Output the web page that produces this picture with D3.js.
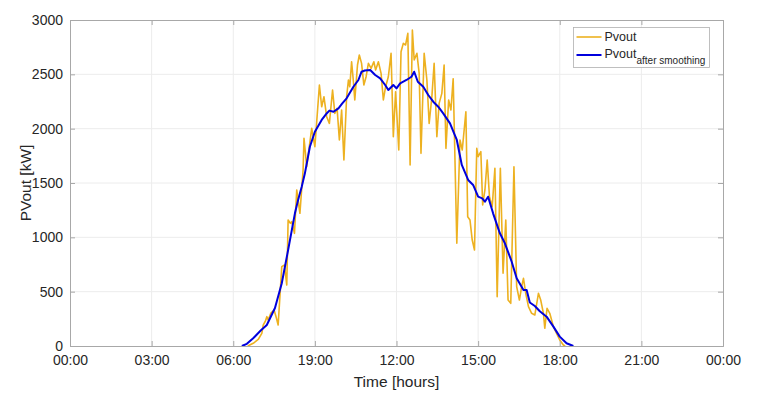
<!DOCTYPE html>
<html>
<head>
<meta charset="utf-8">
<script src="https://cdn.jsdelivr.net/npm/d3@7"></script>
<style>
  body { margin: 0; background: #fff; }
  text { font-family: "Liberation Sans", Arial, sans-serif; fill: #262626; }
</style>
</head>
<body>
<div id="chart"></div>
<script>
// raw PV output, time in minutes after midnight, value in kW
var pvMinutes = [392, 404, 415, 423, 426, 431, 434, 437, 443, 450, 455, 459, 467, 473, 478, 481, 486, 489, 495, 500,
  507, 514, 516, 522, 533, 540, 550, 555, 560, 566, 572, 579, 584, 589, 594, 599, 604, 610, 614, 617,
  621, 625, 628, 634, 638, 643, 648, 653, 658, 664, 670, 674, 680, 686, 691, 696, 702, 708, 713, 718,
  725, 730, 735, 740, 745, 750, 755, 759, 765, 770, 774, 781, 787, 792, 798, 803, 809, 814, 820, 825,
  829, 835, 840, 845, 853, 860, 865, 873, 877, 882, 887, 892, 897, 900, 906, 910, 915, 920, 925, 931,
  937, 942, 949, 955, 961, 966, 972, 979, 985, 991, 996, 1000, 1005, 1011, 1018, 1025, 1033, 1038, 1044, 1047,
  1052, 1058, 1066, 1073, 1080, 1088, 1092];
var pvValues = [0, 25, 60, 117, 193, 230, 270, 240, 304, 331, 260, 193, 730, 745, 561, 1160, 1130, 1144, 1037, 1436,
  1221, 1620, 1911, 1650, 2003, 1834, 2402, 2202, 2294, 2110, 2049, 2356, 2141, 2187, 1896, 2172, 1712, 2294, 2448, 2386,
  2616, 2432, 2264, 2586, 2678, 2601, 2402, 2478, 2601, 2555, 2616, 2540, 2616, 2509, 2264, 2386, 2478, 2693, 1926, 2340,
  1804, 2708, 2785, 2770, 2877, 1666, 2908, 2632, 2693, 2509, 1773, 2693, 2448, 2049, 2294, 2601, 1926, 2233, 2325, 2586,
  1819, 2264, 2172, 2460, 945, 1896, 1804, 2156, 1190, 1160, 975, 883, 1819, 1742, 1788, 1298, 1436, 1712, 1374, 1282,
  1635, 454, 1635, 669, 1160, 423, 393, 1650, 546, 423, 546, 623, 485, 362, 301, 285, 485, 423, 301, 163,
  347, 301, 178, 117, 55, 9, 0];

// smoothed PV output
var smoothMinutes = [379, 390, 404, 420, 434, 452, 467, 481, 496, 503, 511, 518, 529, 540, 555, 566, 572, 581, 592, 600,
  610, 625, 636, 643, 650, 662, 673, 684, 695, 702, 713, 720, 728, 742, 753, 759, 767, 779, 790, 801,
  812, 823, 838, 847, 853, 864, 878, 889, 900, 909, 915, 922, 933, 948, 959, 974, 985, 1000, 1007, 1014,
  1025, 1036, 1051, 1066, 1080, 1095, 1110];
var smoothValues = [0, 20, 71, 140, 193, 350, 577, 883, 1221, 1344, 1466, 1589, 1834, 1972, 2080, 2140, 2166, 2156, 2187, 2230,
  2279, 2386, 2448, 2524, 2535, 2540, 2494, 2463, 2402, 2356, 2402, 2371, 2417, 2448, 2478, 2524, 2432, 2386, 2310, 2248,
  2202, 2141, 2049, 1957, 1896, 1666, 1528, 1482, 1374, 1359, 1328, 1374, 1221, 1037, 945, 776, 623, 515, 515, 400,
  368, 320, 270, 178, 86, 25, 0];

var xTickMinutes = [0, 180, 360, 540, 720, 900, 1080, 1260, 1440];
var xTickLabels = ["00:00", "03:00", "06:00", "19:00", "12:00", "15:00", "18:00", "21:00", "00:00"];
var yTicks = [0, 500, 1000, 1500, 2000, 2500, 3000];

var width = 759, height = 400;
var marginTop = 20, marginRight = 36, marginBottom = 54, marginLeft = 70;

var svg = d3.select("#chart").append("svg")
    .attr("width", width)
    .attr("height", height);

var xScale = d3.scaleLinear().domain([0, 1440]).range([marginLeft, width - marginRight]);
var yScale = d3.scaleLinear().domain([0, 3000]).range([height - marginBottom, marginTop]);

var x0 = marginLeft, x1 = width - marginRight, y0 = height - marginBottom, y1 = marginTop;

// grid
svg.append("g")
  .selectAll("line")
  .data(xTickMinutes.slice(1, -1))
  .join("line")
    .attr("x1", d => xScale(d)).attr("x2", d => xScale(d))
    .attr("y1", y0).attr("y2", y1)
    .attr("stroke", "#ececec");
svg.append("g")
  .selectAll("line")
  .data(yTicks.slice(1, -1))
  .join("line")
    .attr("x1", x0).attr("x2", x1)
    .attr("y1", d => yScale(d)).attr("y2", d => yScale(d))
    .attr("stroke", "#ececec");

// lines
var rawLine = d3.line()
    .x((d, i) => xScale(pvMinutes[i]))
    .y(d => yScale(d));
var smoothLine = d3.line()
    .x((d, i) => xScale(smoothMinutes[i]))
    .y(d => yScale(d));

svg.append("path")
    .attr("d", rawLine(pvValues))
    .attr("fill", "none")
    .attr("stroke", "#EDB120")
    .attr("stroke-width", 1.6)
    .attr("stroke-linejoin", "round");

svg.append("path")
    .attr("d", smoothLine(smoothValues))
    .attr("fill", "none")
    .attr("stroke", "#0000dd")
    .attr("stroke-width", 2)
    .attr("stroke-linejoin", "round");

// axes (ticks inward, on all four sides)
var boxColor = "#a8a8a8";
svg.append("g")
    .attr("transform", `translate(0,${y0})`)
    .call(d3.axisBottom(xScale).tickValues(xTickMinutes).tickSize(-5).tickPadding(9)
      .tickFormat((d, i) => xTickLabels[i]))
    .call(g => g.select(".domain").attr("stroke", boxColor))
    .call(g => g.selectAll(".tick line").attr("stroke", boxColor))
    .call(g => g.selectAll(".tick text").attr("font-size", 14).attr("font-family", null).attr("fill", "#262626"));

svg.append("g")
    .attr("transform", `translate(${x0},0)`)
    .call(d3.axisLeft(yScale).tickValues(yTicks).tickSize(-5).tickPadding(7).tickFormat(d3.format("d")))
    .call(g => g.select(".domain").attr("stroke", boxColor))
    .call(g => g.selectAll(".tick line").attr("stroke", boxColor))
    .call(g => g.selectAll(".tick text").attr("font-size", 14).attr("font-family", null).attr("fill", "#262626"));

svg.append("g")
    .attr("transform", `translate(0,${y1})`)
    .call(d3.axisTop(xScale).tickValues(xTickMinutes).tickSize(-5).tickFormat(""))
    .call(g => g.select(".domain").attr("stroke", boxColor))
    .call(g => g.selectAll(".tick line").attr("stroke", boxColor));

svg.append("g")
    .attr("transform", `translate(${x1},0)`)
    .call(d3.axisRight(yScale).tickValues(yTicks).tickSize(-5).tickFormat(""))
    .call(g => g.select(".domain").attr("stroke", boxColor))
    .call(g => g.selectAll(".tick line").attr("stroke", boxColor));

// axis labels
svg.append("text")
    .attr("x", (x0 + x1) / 2)
    .attr("y", 387)
    .attr("text-anchor", "middle")
    .attr("font-size", 15.5)
    .text("Time [hours]");

svg.append("text")
    .attr("transform", `translate(31,${(y0 + y1) / 2}) rotate(-90)`)
    .attr("text-anchor", "middle")
    .attr("font-size", 15.5)
    .text("PVout [kW]");

// legend
var legend = svg.append("g").attr("transform", "translate(573.5,27.5)");
legend.append("rect")
    .attr("width", 136)
    .attr("height", 40)
    .attr("fill", "#fff")
    .attr("stroke", "#b0b0b0")
    .attr("stroke-width", 0.8);

legend.append("line")
    .attr("x1", 3).attr("x2", 28).attr("y1", 9.5).attr("y2", 9.5)
    .attr("stroke", "#EDB120").attr("stroke-width", 1.6);
legend.append("text")
    .attr("x", 31).attr("y", 13.8)
    .attr("font-size", 12.5)
    .text("Pvout");

legend.append("line")
    .attr("x1", 3).attr("x2", 28).attr("y1", 27.5).attr("y2", 27.5)
    .attr("stroke", "#0000dd").attr("stroke-width", 2);
var t2 = legend.append("text")
    .attr("x", 31).attr("y", 30)
    .attr("font-size", 12.5);
t2.append("tspan").text("Pvout");
t2.append("tspan").attr("dy", 6.5).attr("font-size", 10).text("after smoothing");
</script>
</body>
</html>
